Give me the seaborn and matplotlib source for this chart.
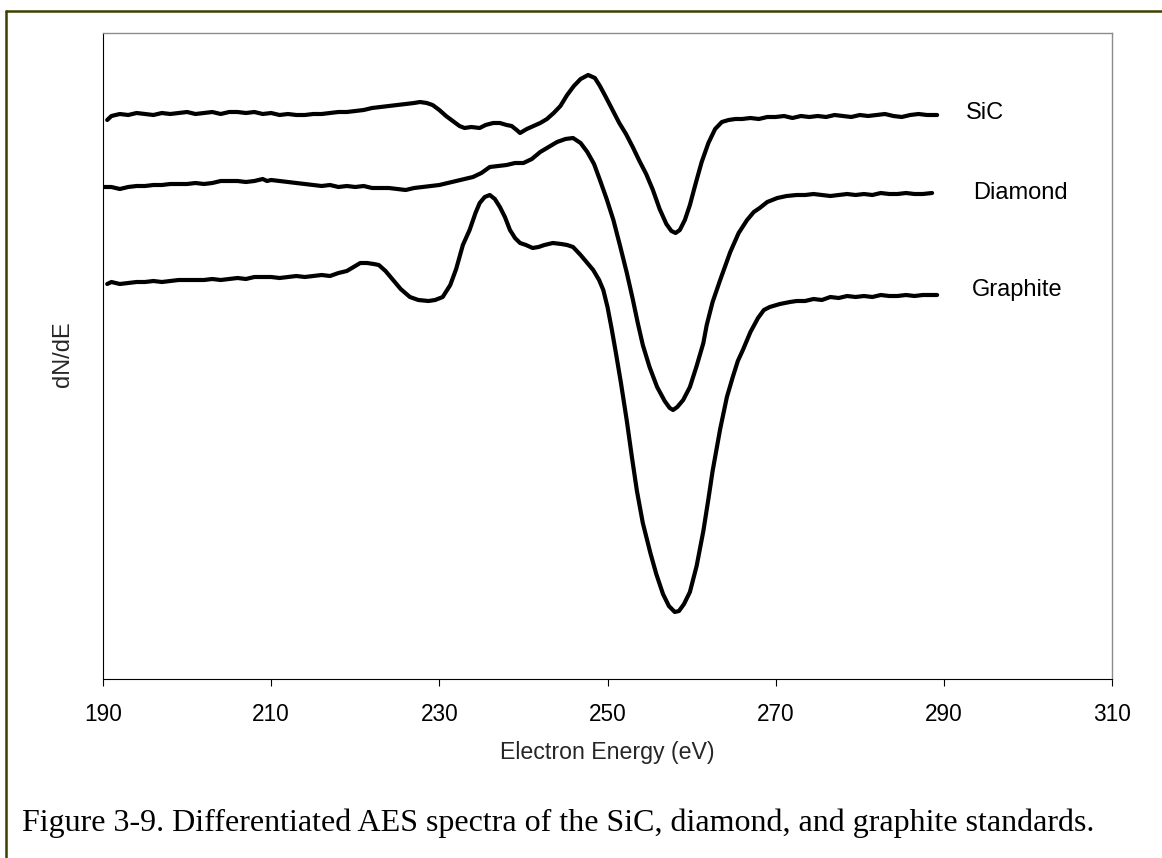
import matplotlib
matplotlib.use("Agg")
import matplotlib.pyplot as plt
from matplotlib.lines import Line2D
import seaborn as sns
import pandas as pd

# ---------------- data (arbitrary dN/dE units) ----------------
sic_energy = [190.5, 191, 192, 193, 194, 195, 196, 197, 198, 199, 200, 201, 202, 203, 204, 205,
              206, 207, 208, 209, 210, 211, 212, 213, 214, 215, 216, 217, 218, 219, 220, 221,
              222, 223, 224, 225, 226, 227, 227.7, 228.5, 229.2, 230, 230.8, 231.6, 232.4, 233,
              233.8, 234.8, 235.5, 236.4, 237.2, 238, 238.6, 239.2, 239.6, 240.4, 241.2, 242,
              242.8, 243.6, 244.4, 245.2, 246, 246.8, 247.7, 248.5, 249.1, 249.8, 250.6, 251.4,
              252.2, 253, 253.8, 254.6, 255.4, 256.2, 257, 257.6, 258.1, 258.6, 259.2, 259.8,
              260.5, 261.2, 262, 262.8, 263.6, 264.4, 265.2, 266, 267, 268, 269, 270, 271, 272,
              273, 274, 275, 276, 277, 278, 279, 280, 281, 282, 283, 284, 285, 286, 287, 288, 289.2]
sic_signal = [55.9, 56.3, 56.5, 56.4, 56.6, 56.5, 56.4, 56.6, 56.5, 56.6, 56.7, 56.5, 56.6, 56.7, 56.5, 56.7,
              56.7, 56.6, 56.7, 56.5, 56.6, 56.4, 56.5, 56.4, 56.4, 56.5, 56.5, 56.6, 56.7, 56.7, 56.8, 56.9,
              57.1, 57.2, 57.3, 57.4, 57.5, 57.6, 57.7, 57.6, 57.4, 56.9, 56.3, 55.8, 55.3, 55.1,
              55.2, 55.1, 55.4, 55.6, 55.6, 55.4, 55.3, 54.9, 54.6, 55.0, 55.3, 55.6,
              56.0, 56.6, 57.3, 58.4, 59.3, 60.0, 60.4, 60.1, 59.3, 58.2, 56.9, 55.6,
              54.5, 53.2, 51.8, 50.5, 48.9, 47.0, 45.5, 44.8, 44.6, 44.9, 45.9, 47.4,
              49.6, 51.7, 53.6, 55.0, 55.7, 55.9, 56.0, 56.0, 56.1, 56.0, 56.2, 56.2, 56.3, 56.1,
              56.3, 56.2, 56.3, 56.2, 56.4, 56.3, 56.2, 56.4, 56.3, 56.4, 56.5, 56.3, 56.2, 56.4, 56.5, 56.4, 56.4]

diamond_energy = [190, 191, 192, 193, 194, 195, 196, 197, 198, 199, 200, 201, 202, 203, 204, 205,
                  206, 207, 208, 209, 209.5, 210, 211, 212, 213, 214, 215, 216, 217, 218, 219, 220,
                  221, 222, 223, 224, 225, 226, 227, 228, 229, 230, 231, 232, 233, 234, 235, 236,
                  237, 238, 239, 240, 241, 242, 243, 244, 245, 245.9, 246.8, 247.6, 248.4, 249.1,
                  249.9, 250.7, 251.5, 252.3, 253, 253.6, 254.2, 255, 255.9, 256.8, 257.4, 257.8,
                  258.3, 259, 259.8, 260.6, 261.4, 261.8, 262.5, 263.4, 264.6, 265.6, 266.6, 267.4,
                  268.1, 269, 270.2, 271.3, 272.5, 273.5, 274.5, 275.5, 276.5, 277.5, 278.5, 279.5,
                  280.5, 281.5, 282.5, 283.5, 284.5, 285.5, 286.5, 287.5, 288.6]
diamond_signal = [49.2, 49.2, 49.0, 49.2, 49.3, 49.3, 49.4, 49.4, 49.5, 49.5, 49.5, 49.6, 49.5, 49.6, 49.8, 49.8,
                  49.8, 49.7, 49.8, 50.0, 49.8, 49.9, 49.8, 49.7, 49.6, 49.5, 49.4, 49.3, 49.4, 49.2, 49.3, 49.2,
                  49.3, 49.1, 49.1, 49.1, 49.0, 48.9, 49.1, 49.2, 49.3, 49.4, 49.6, 49.8, 50.0, 50.2, 50.6, 51.2,
                  51.3, 51.4, 51.6, 51.6, 52.0, 52.7, 53.2, 53.7, 54.0, 54.1, 53.6, 52.7, 51.5, 49.9,
                  48.0, 45.9, 43.3, 40.6, 38.0, 35.6, 33.4, 31.2, 29.2, 27.8, 27.1, 26.9,
                  27.2, 27.9, 29.2, 31.3, 33.6, 35.4, 37.7, 39.9, 42.7, 44.6, 45.9, 46.7,
                  47.1, 47.7, 48.1, 48.3, 48.4, 48.4, 48.5, 48.4, 48.3, 48.4, 48.5, 48.4,
                  48.5, 48.4, 48.6, 48.5, 48.5, 48.6, 48.5, 48.5, 48.6]

graphite_energy = [190.5, 191, 192, 193, 194, 195, 196, 197, 198, 199, 200, 201, 202, 203, 204, 205,
                   206, 207, 208, 209, 210, 211, 212, 213, 214, 215, 216, 217, 218, 219, 219.8, 220.6,
                   221.4, 222.2, 222.8, 223.6, 224.5, 225.4, 226.5, 227.5, 228.7, 229.5, 230.4, 231.3,
                   232, 232.8, 233.6, 234.3, 234.8, 235.4, 236, 236.6, 237.2, 237.8, 238.4, 239, 239.6,
                   240.3, 241.1, 241.8, 242.5, 243.5, 244.5, 245.2, 245.9, 246.8, 247.6, 248.3, 249,
                   249.5, 250, 250.5, 251, 251.6, 252.3, 252.9, 253.5, 254.2, 255.1, 255.8, 256.6,
                   257.3, 258, 258.5, 259.1, 259.8, 260.6, 261.4, 262, 262.5, 263.4, 264.2, 264.9,
                   265.5, 266.1, 267, 267.9, 268.6, 269.3, 270.5, 271.7, 272.5, 273.5, 274.5, 275.5,
                   276.5, 277.5, 278.5, 279.5, 280.5, 281.5, 282.5, 283.5, 284.5, 285.5, 286.5, 287.5, 289.2]
graphite_signal = [39.5, 39.7, 39.5, 39.6, 39.7, 39.7, 39.8, 39.7, 39.8, 39.9, 39.9, 39.9, 39.9, 40.0, 39.9, 40.0,
                   40.1, 40.0, 40.2, 40.2, 40.2, 40.1, 40.2, 40.3, 40.2, 40.3, 40.4, 40.3, 40.6, 40.8, 41.2, 41.6,
                   41.6, 41.5, 41.4, 40.8, 39.9, 39.0, 38.2, 37.9, 37.8, 37.9, 38.2, 39.4,
                   41.0, 43.4, 44.9, 46.6, 47.6, 48.2, 48.4, 48.0, 47.2, 46.2, 44.9, 44.1, 43.6,
                   43.4, 43.1, 43.2, 43.4, 43.6, 43.5, 43.4, 43.2, 42.4, 41.6, 40.9, 39.9,
                   38.9, 37.2, 35.0, 32.6, 29.6, 25.8, 22.2, 18.8, 15.6, 12.6, 10.5, 8.5,
                   7.3, 6.7, 6.8, 7.5, 8.7, 11.3, 14.8, 18.0, 20.8, 25.0, 28.2, 30.2,
                   31.8, 32.9, 34.7, 36.1, 36.9, 37.2, 37.5, 37.7, 37.8, 37.8, 38.0, 37.9,
                   38.2, 38.1, 38.3, 38.2, 38.3, 38.2, 38.4, 38.3, 38.3, 38.4, 38.3, 38.4, 38.4]

series_names = ["SiC", "Diamond", "Graphite"]
label_positions_x = [292.6, 293.5, 293.3]
label_positions_y = [56.6, 48.6, 38.9]
x_ticks = [190, 210, 230, 250, 270, 290, 310]
x_label = "Electron Energy (eV)"
y_label = "dN/dE"
caption = "Figure 3-9. Differentiated AES spectra of the SiC, diamond, and graphite standards."

# ---------------- build long table ----------------
frames = []
for name, xs, ys in zip(series_names,
                        [sic_energy, diamond_energy, graphite_energy],
                        [sic_signal, diamond_signal, graphite_signal]):
    frames.append(pd.DataFrame({"energy": xs, "signal": ys, "material": name}))
df = pd.concat(frames, ignore_index=True)

# ---------------- style ----------------
sns.set_style("white")
plt.rcParams["font.family"] = ["Liberation Sans", "DejaVu Sans"]

W, H = 1162, 858
fig = plt.figure(figsize=(W / 100, H / 100), dpi=100)
fig.patch.set_facecolor("white")

ax_left, ax_right, ax_top, ax_bottom = 103, 1112, 33, 679
ax = fig.add_axes([ax_left / W, 1 - ax_bottom / H,
                   (ax_right - ax_left) / W, (ax_bottom - ax_top) / H])

sns.lineplot(data=df, x="energy", y="signal", hue="material",
             palette={n: "black" for n in series_names},
             estimator=None, sort=False, legend=False, linewidth=3.0, ax=ax)

ax.set_xlim(190, 310)
ax.set_ylim(0, 64.6)
ax.set_xticks(x_ticks)
ax.set_xticklabels([str(t) for t in x_ticks])
ax.set_yticks([])
ax.tick_params(axis="x", direction="out", length=5, width=0.8, pad=12.5,
               labelsize=16.3, colors="black", bottom=True)

for side in ["left", "bottom"]:
    ax.spines[side].set_color("black")
    ax.spines[side].set_linewidth(0.8)
for side in ["top", "right"]:
    ax.spines[side].set_color("#8c8c8c")
    ax.spines[side].set_linewidth(1.0)
    ax.spines[side].set_visible(True)

ax.set_xlabel(x_label, fontsize=16.7)
ax.xaxis.set_label_coords(0.5, -(752 - ax_bottom) / (ax_bottom - ax_top))
ax.xaxis.label.set_va("center")
ax.set_ylabel(y_label, fontsize=17)
ax.yaxis.set_label_coords(-(ax_left - 63) / (ax_right - ax_left), (ax_bottom - 354) / (ax_bottom - ax_top))
ax.yaxis.label.set_va("center")
ax.yaxis.label.set_ha("center")

for name, lx, ly in zip(series_names, label_positions_x, label_positions_y):
    ax.text(lx, ly, name, fontsize=17, ha="left", va="center", color="black")

fig.text(22 / W, 1 - 823 / H, caption, family=["Liberation Serif", "DejaVu Serif"],
         fontsize=23, ha="left", va="center", color="black")

# outer frame (only left and top edges visible)
border_color = "#3f3f00"
fig.add_artist(Line2D([6 / W, 6 / W], [0, 1 - 11 / H], transform=fig.transFigure,
                      color=border_color, linewidth=1.8))
fig.add_artist(Line2D([6 / W, 1], [1 - 11 / H, 1 - 11 / H], transform=fig.transFigure,
                      color=border_color, linewidth=1.8))

fig.savefig("out.png", dpi=100)
